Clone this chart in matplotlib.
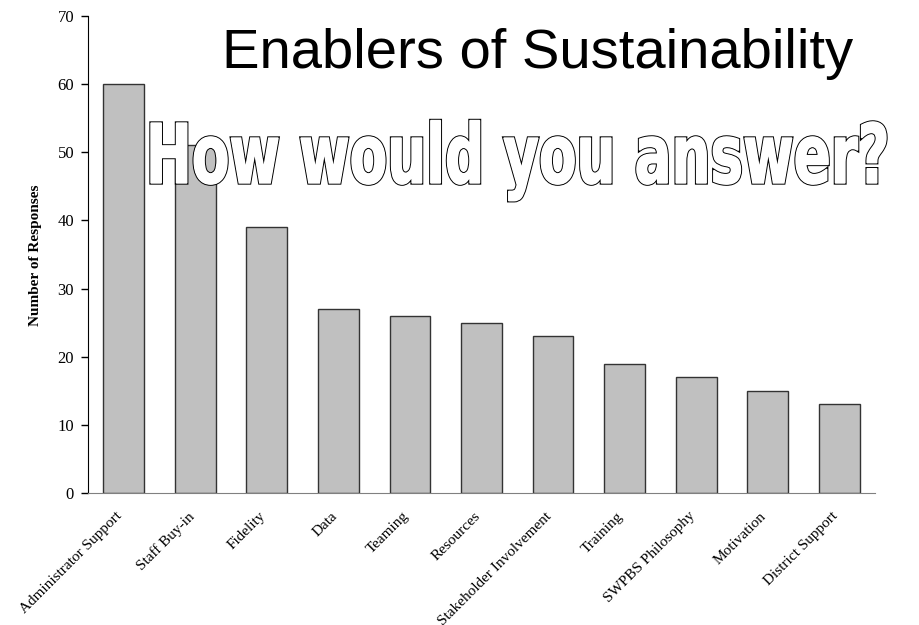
import numpy as np
import matplotlib
matplotlib.use('Agg')
import matplotlib.pyplot as plt
import matplotlib.patheffects as pe
from matplotlib.textpath import TextPath
from matplotlib.patches import PathPatch
from matplotlib.font_manager import FontProperties
from matplotlib.transforms import Affine2D, ScaledTranslation

categories = ['Administrator Support', 'Staff Buy-in', 'Fidelity', 'Data', 'Teaming',
              'Resources', 'Stakeholder Involvement', 'Training', 'SWPBS Philosophy',
              'Motivation', 'District Support']
responses = [60, 51, 39, 27, 26, 25, 23, 19, 17, 15, 13]
y_ticks = [0, 10, 20, 30, 40, 50, 60, 70]

W, H = 920, 625
fig = plt.figure(figsize=(W / 100, H / 100), dpi=100)
ax = fig.add_axes([88 / W, 1 - 493 / H, (875 - 88) / W, (493 - 16) / H])

x = np.arange(len(categories))
ax.bar(x, responses, width=0.57, color='#C0C0C0', edgecolor='#333333', linewidth=1)

ax.set_xlim(-0.5, len(categories) - 0.5)
ax.set_ylim(0, 70)
ax.set_yticks(y_ticks)
ax.set_yticklabels([str(t) for t in y_ticks], family='Liberation Serif', fontsize=12)
ax.set_xticks(x)
ax.set_xticklabels(categories, family='Liberation Serif', fontsize=11,
                   rotation=45, ha='right', va='top', rotation_mode='anchor')
ax.tick_params(axis='x', length=0, pad=12)
ax.tick_params(axis='y', length=5, width=1, direction='out', pad=5)

# nudge the slanted labels a bit to the left
shift = ScaledTranslation(-8 / 100, 0, fig.dpi_scale_trans)
for lbl in ax.get_xticklabels():
    lbl.set_transform(lbl.get_transform() + shift)

for s in ['top', 'right']:
    ax.spines[s].set_visible(False)
ax.spines['left'].set_color('black')
ax.spines['bottom'].set_color('#808080')

fig.text(36 / W, 1 - 255 / H, 'Number of Responses', rotation=90, ha='center', va='center',
         family='Liberation Serif', fontweight='bold', fontsize=11)

# big title
fig.text(222 / W, 1 - 68 / H, 'Enablers of Sustainability', ha='left', va='baseline',
         family='Liberation Sans', fontsize=40.5)

# outlined, squeezed question text laid over the bars
fp = FontProperties(family='DejaVu Sans', weight='bold')
tp = TextPath((0, 0), 'How would you answer?', size=1, prop=fp)
cap = TextPath((0, 0), 'H', size=1, prop=fp).get_extents()
ext = tp.get_extents()
sx = (886 - 151) / ext.width
sy = 60 / cap.height
tr = (Affine2D().translate(-ext.x0, 0).scale(sx, sy).translate(151, H - 183).scale(1 / 100)
      + fig.dpi_scale_trans)
outline = PathPatch(tp, transform=tr, facecolor='white', edgecolor='white', linewidth=0, zorder=10)
# black stroke under a thinner white one: slightly fattened outlined lettering
outline.set_path_effects([pe.Stroke(linewidth=2.4, foreground='black'),
                          pe.Stroke(linewidth=1.0, foreground='white'),
                          pe.Normal()])
fig.add_artist(outline)

fig.savefig('out.png', dpi=100)
